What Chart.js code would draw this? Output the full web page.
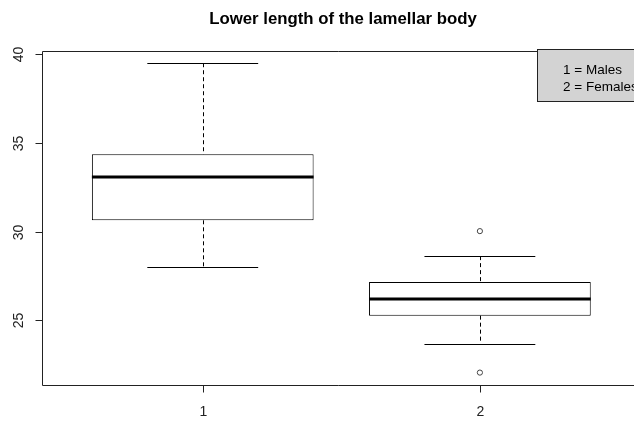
<!DOCTYPE html>
<html>
<head>
<meta charset="utf-8">
<script src="https://cdn.jsdelivr.net/npm/chart.js@4/dist/chart.umd.min.js"></script>
<style>
  html, body { margin: 0; padding: 0; background: #fff; overflow: hidden; }
  #wrap { width: 634px; height: 421px; position: relative; }
</style>
</head>
<body>
<div id="wrap"><canvas id="c" width="634" height="421"></canvas></div>
<script>
// ---- data ----
const categories   = [1, 2];
const categoryLabels = ['1', '2'];
const lowerWhisker = [28.03, 23.68];
const q1           = [30.64, 25.26];
const median       = [33.08, 26.20];
const q3           = [34.36, 27.16];
const upperWhisker = [39.50, 28.62];
const outliers     = [[], [30.03, 22.05]];
const yTicks       = [25, 30, 35, 40];
const titleText    = 'Lower length of the lamellar body';
const legendLines  = ['1 = Males', '2 = Females'];

const boxData = categories.map((c, i) => ({ x: c, y: [q1[i], q3[i]] }));
const outlierData = [];
categories.forEach((c, i) => outliers[i].forEach(v => outlierData.push({ x: c, y: v })));

const FONT = '"Liberation Sans", Arial, sans-serif';

const rStyle = {
  id: 'rStyle',
  beforeDatasetsDraw(chart) {
    const { ctx } = chart;
    const x = chart.scales.x, y = chart.scales.y;
    ctx.save();
    ctx.strokeStyle = '#000';
    ctx.lineWidth = 1;
    categories.forEach((c, i) => {
      const px = Math.round(x.getPixelForValue(c)) + 0.5;
      ctx.setLineDash([4, 3]);
      ctx.beginPath();
      ctx.moveTo(px, y.getPixelForValue(upperWhisker[i]));
      ctx.lineTo(px, y.getPixelForValue(q3[i]));
      ctx.moveTo(px, y.getPixelForValue(q1[i]));
      ctx.lineTo(px, y.getPixelForValue(lowerWhisker[i]));
      ctx.stroke();
      ctx.setLineDash([]);
      const l = x.getPixelForValue(c - 0.2), r = x.getPixelForValue(c + 0.2);
      [upperWhisker[i], lowerWhisker[i]].forEach(v => {
        const py = Math.round(y.getPixelForValue(v)) + 0.5;
        ctx.beginPath(); ctx.moveTo(l, py); ctx.lineTo(r, py); ctx.stroke();
      });
    });
    ctx.restore();
  },
  afterDatasetsDraw(chart) {
    const { ctx, chartArea } = chart;
    const x = chart.scales.x, y = chart.scales.y;
    ctx.save();
    // medians
    ctx.strokeStyle = '#000';
    ctx.lineWidth = 3;
    categories.forEach((c, i) => {
      const l = x.getPixelForValue(c - 0.4), r = x.getPixelForValue(c + 0.4);
      const py = Math.round(y.getPixelForValue(median[i]));
      ctx.beginPath(); ctx.moveTo(l, py); ctx.lineTo(r, py); ctx.stroke();
    });
    // frame (left, top, bottom; right edge lies outside the picture)
    ctx.lineWidth = 1;
    ctx.strokeStyle = '#222';
    const L = chartArea.left + 0.5, T = chartArea.top + 0.5, B = chartArea.bottom + 0.5, R = chart.width + 20;
    ctx.beginPath();
    ctx.moveTo(R, T); ctx.lineTo(L, T); ctx.lineTo(L, B); ctx.lineTo(R, B);
    ctx.stroke();
    // y ticks & rotated labels
    ctx.fillStyle = '#222';
    ctx.font = '14px ' + FONT;
    ctx.textAlign = 'center';
    ctx.textBaseline = 'middle';
    yTicks.forEach(t => {
      const py = Math.round(y.getPixelForValue(t)) + 0.5;
      ctx.beginPath(); ctx.moveTo(L - 7, py); ctx.lineTo(L, py); ctx.stroke();
      ctx.save();
      ctx.translate(19, py);
      ctx.rotate(-Math.PI / 2);
      ctx.fillText(String(t), 0, 0);
      ctx.restore();
    });
    // x ticks & labels
    categories.forEach((c, i) => {
      const px = Math.round(x.getPixelForValue(c)) + 0.5;
      ctx.beginPath(); ctx.moveTo(px, B); ctx.lineTo(px, B + 7); ctx.stroke();
      ctx.fillText(categoryLabels[i], px, 412);
    });
    // title
    ctx.font = 'bold 16.8px ' + FONT;
    ctx.fillStyle = '#000';
    ctx.fillText(titleText, 343, 19);
    // legend box (top-right, partly outside the picture)
    ctx.fillStyle = '#d3d3d3';
    ctx.fillRect(537.5, 49.5, 130, 52);
    ctx.strokeStyle = '#222';
    ctx.strokeRect(537.5, 49.5, 130, 52);
    ctx.fillStyle = '#000';
    ctx.font = '13.5px ' + FONT;
    ctx.textAlign = 'left';
    ctx.fillText(legendLines[0], 563, 70);
    ctx.fillText(legendLines[1], 563, 87);
    ctx.restore();
  }
};

new Chart(document.getElementById('c'), {
  type: 'bar',
  data: {
    datasets: [
      {
        type: 'bar',
        data: boxData,
        backgroundColor: '#ffffff',
        borderColor: '#000000',
        borderWidth: 1,
        borderSkipped: false,
        barPercentage: 0.8,
        categoryPercentage: 1.0,
        order: 2
      },
      {
        type: 'scatter',
        data: outlierData,
        pointStyle: 'circle',
        pointRadius: 2.6,
        pointBorderWidth: 1,
        pointBackgroundColor: 'rgba(0,0,0,0)',
        pointBorderColor: '#444',
        showLine: false,
        order: 1
      }
    ]
  },
  options: {
    responsive: false,
    animation: false,
    events: [],
    layout: { padding: { left: 42, top: 51, right: 0, bottom: 36 } },
    plugins: { legend: { display: false }, tooltip: { enabled: false }, title: { display: false } },
    scales: {
      x: {
        type: 'linear', display: false, offset: false, min: 0.42, max: 2.538,
        afterBuildTicks: (s) => { s.ticks = categories.map(v => ({ value: v })); }
      },
      y: {
        type: 'linear', display: false, min: 21.35, max: 40.19,
        afterBuildTicks: (s) => { s.ticks = yTicks.map(v => ({ value: v })); }
      }
    }
  },
  plugins: [rStyle]
});
</script>
</body>
</html>
